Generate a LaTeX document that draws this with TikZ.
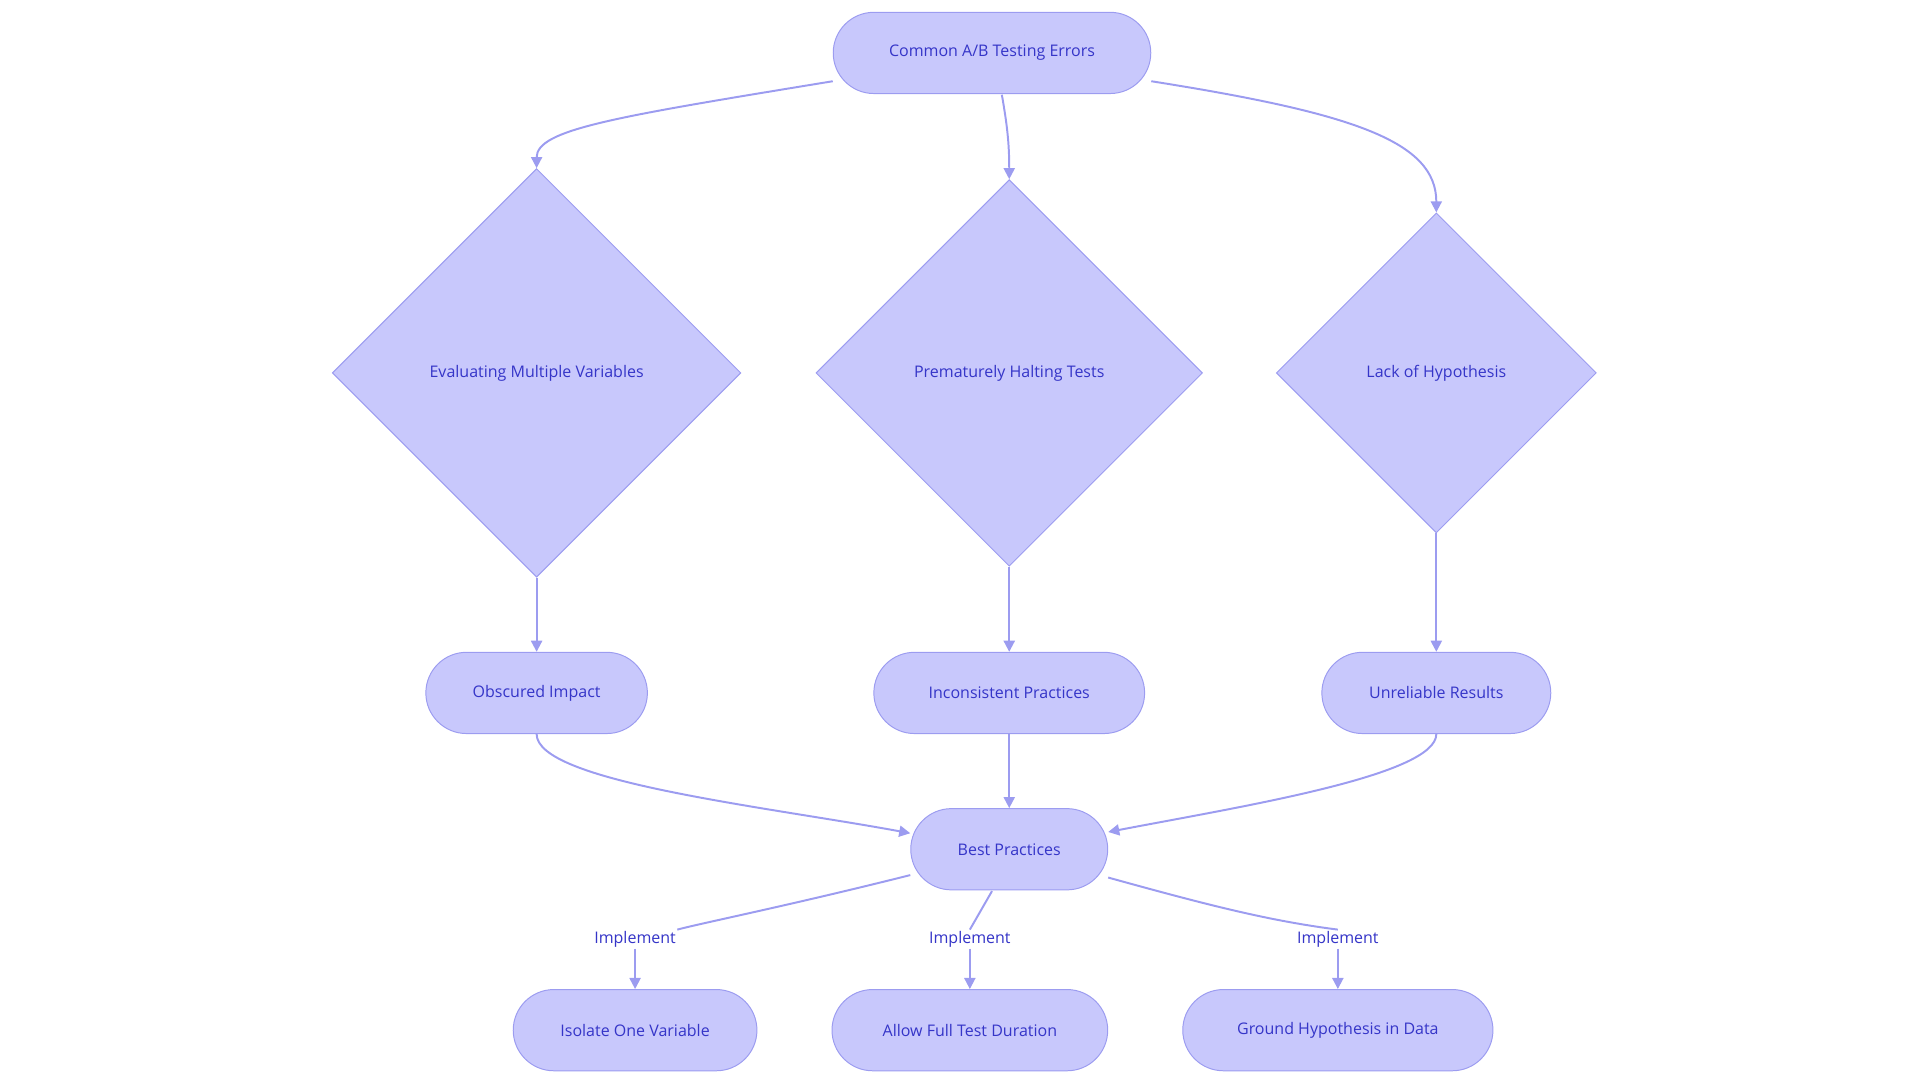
\documentclass[tikz,border=0pt]{standalone}
\usepackage{fontspec}
\setmainfont{Open Sans}
\usetikzlibrary{shapes.geometric,arrows.meta}
\definecolor{nfill}{HTML}{C8C8FC}
\definecolor{nline}{HTML}{9C9CF0}
\definecolor{ntext}{HTML}{3535C8}
\begin{document}
\begin{tikzpicture}[x=1pt,y=-1pt,
  pill/.style={draw=nline,fill=nfill,rounded corners=33pt,minimum height=66pt,text=ntext,font=\fontsize{13}{15}\selectfont,line width=0.8pt},
  dia/.style={draw=nline,fill=nfill,diamond,aspect=1,inner sep=0pt,text=ntext,font=\fontsize{13}{15}\selectfont,line width=0.8pt},
  lab/.style={fill=white,text=ntext,font=\fontsize{13}{15}\selectfont,inner sep=1pt},
  arr/.style={draw=nline,line width=1.6pt,-{Triangle[length=9pt,width=9pt]}},
  ln/.style={draw=nline,line width=1.6pt}]
\useasboundingbox (0,0) rectangle (1560,880);
\node[pill,minimum width=258pt] (top) at (806,43) {Common A/B Testing Errors};
\node[dia,minimum size=332pt] (d1) at (436,303) {Evaluating Multiple Variables};
\node[dia,minimum size=314pt] (d2) at (820,303) {Prematurely Halting Tests};
\node[dia,minimum size=260pt] (d3) at (1167,303) {Lack of Hypothesis};
\node[pill,minimum width=180pt] (o) at (436,563) {Obscured Impact};
\node[pill,minimum width=220pt] (i) at (820,563) {Inconsistent Practices};
\node[pill,minimum width=186pt] (u) at (1167,563) {Unreliable Results};
\node[pill,minimum width=160pt] (b) at (820,690) {Best Practices};
\node[pill,minimum width=198pt] (s1) at (516,837) {Isolate One Variable};
\node[pill,minimum width=224pt] (s2) at (788,837) {Allow Full Test Duration};
\node[pill,minimum width=252pt] (s3) at (1087,837) {Ground Hypothesis in Data};
\node[lab] (l1) at (516,763) {Implement};
\node[lab] (l2) at (788,763) {Implement};
\node[lab] (l3) at (1087,763) {Implement};
\draw[arr] (top.west |- 0,66) .. controls (500,95) and (436,105) .. (d1.north);
\draw[arr] (814,77) .. controls (818,100) and (820,115) .. (d2.north);
\draw[arr] (top.east |- 0,66) .. controls (1100,92) and (1167,115) .. (d3.north);
\draw[arr] (d1.south) -- (o.north);
\draw[arr] (d2.south) -- (i.north);
\draw[arr] (d3.south) -- (u.north);
\draw[arr] (o.south) .. controls (436,635) and (620,655) .. (b.west |- 0,677);
\draw[arr] (i.south) -- (b.north);
\draw[arr] (u.south) .. controls (1167,630) and (1010,655) .. (b.east |- 0,676);
\draw[ln] (b.west |- 0,711) .. controls (640,736) and (570,750) .. (l1.north east);
\draw[arr] (l1.south) .. controls (516,780) and (516,785) .. (s1.north);
\draw[ln] (806,724) -- (l2.north);
\draw[arr] (l2.south) -- (s2.north);
\draw[ln] (b.east |- 0,713) .. controls (980,735) and (1030,748) .. (l3.north);
\draw[arr] (l3.south) .. controls (1087,780) and (1087,785) .. (s3.north);
\end{tikzpicture}
\end{document}
